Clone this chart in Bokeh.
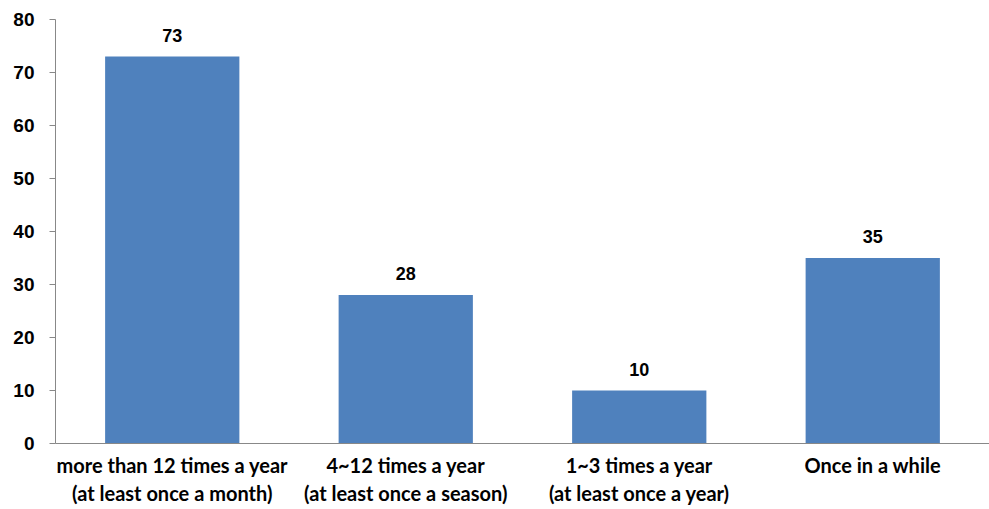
from bokeh.plotting import figure
from bokeh.models import ColumnDataSource, FixedTicker, Range1d
from bokeh.core.properties import value
from bokeh.embed import file_html
from bokeh.resources import INLINE

# Survey: how often respondents do the activity
categories = [
    "more than 12 times a year\n(at least once a month)",
    "4~12 times a year\n(at least once a season)",
    "1~3 times a year\n(at least once a year)",
    "Once in a while",
]
counts = [73, 28, 10, 35]
y_ticks = [0, 10, 20, 30, 40, 50, 60, 70, 80]

positions = [i + 0.5 for i in range(len(categories))]
source = ColumnDataSource(dict(
    x=positions,
    top=counts,
    label=[str(c) for c in counts],
))

p = figure(
    width=989, height=509,
    x_range=Range1d(0, len(categories)),
    y_range=Range1d(0, 80),
    output_backend="svg",
    toolbar_location=None,
    min_border_left=55, min_border_right=0,
    min_border_top=19, min_border_bottom=66,
)

p.vbar(x="x", top="top", width=0.575, source=source,
       fill_color="#4F81BD", line_color=None)

p.text(x="x", y="top", text="label", source=source,
       text_align="center", text_baseline="bottom", y_offset=-15,
       text_font=value("Liberation Sans"), text_font_style="bold",
       text_font_size="18px", text_color="#000000")

axis_gray = "#888888"

# y axis
yax = p.yaxis[0]
yax.ticker = FixedTicker(ticks=y_ticks)
yax.axis_line_color = axis_gray
yax.major_tick_line_color = axis_gray
yax.major_tick_out = 6
yax.major_tick_in = 0
yax.minor_tick_line_color = None
yax.major_label_text_font = "Liberation Sans"
yax.major_label_text_font_style = "bold"
yax.major_label_text_font_size = "19px"
yax.major_label_text_color = "#000000"
yax.major_label_standoff = 15

# x axis with two-line category labels
xax = p.xaxis[0]
xax.ticker = FixedTicker(ticks=positions)
xax.major_label_overrides = {pos: lab for pos, lab in zip(positions, categories)}
xax.axis_line_color = axis_gray
xax.major_tick_line_color = None
xax.minor_tick_line_color = None
xax.major_label_text_font = "Lato"
xax.major_label_text_font_style = "bold"
xax.major_label_text_font_size = "20px"
xax.major_label_text_color = "#000000"
xax.major_label_standoff = 3

p.xgrid.visible = False
p.ygrid.visible = False
p.outline_line_color = None
p.background_fill_color = "white"
p.border_fill_color = "white"

open("out.html", "w").write(file_html(p, INLINE))
